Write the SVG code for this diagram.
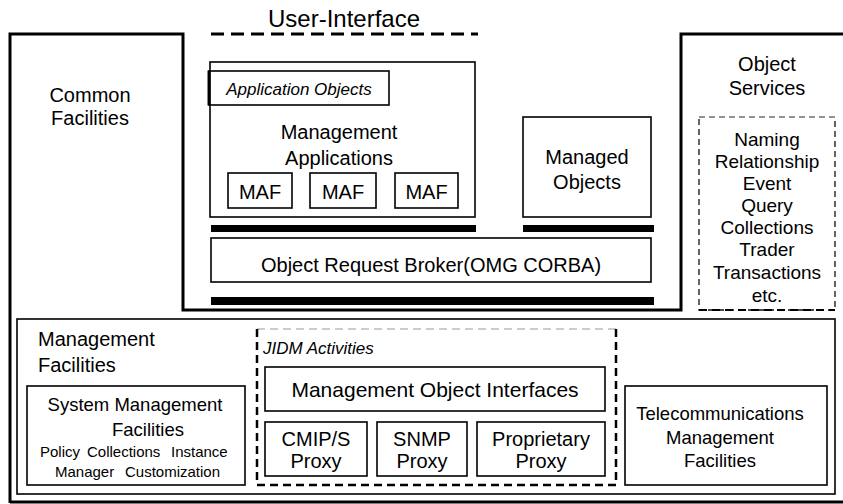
<svg xmlns="http://www.w3.org/2000/svg" width="843" height="504" viewBox="0 0 843 504">
<style>
.t{font-family:"Liberation Sans",Arial,sans-serif;fill:#000;text-anchor:middle}
.s20{font-size:20px}
.s19{font-size:19px}
.s18{font-size:18.5px}
.s15{font-size:15px}
.it{font-style:italic}
.box{fill:none;stroke:#000;stroke-width:1.6}
.thick{fill:none;stroke:#000;stroke-width:3}
.bar{fill:#000}
.dash{fill:none;stroke:#000;stroke-width:2.5;stroke-dasharray:8 5}
.dashlt{fill:none;stroke:#999;stroke-width:1;stroke-dasharray:8 5}
</style>
<rect width="843" height="504" fill="#fff"/>
<g id="frame">
<path class="thick" d="M10,503 L10,34 L183,34 L183,310 L681,310 L681,34 L843,34"/>
<line x1="10" y1="502" x2="843" y2="502" stroke="#000" stroke-width="3"/>
</g>
<g id="user-interface">
<text class="t" x="344" y="27" style="font-size:24px">User-Interface</text>
<line x1="211" y1="34" x2="478" y2="34" stroke="#000" stroke-width="3" stroke-dasharray="13 7"/>
</g>
<g id="common-facilities">
<text class="t s20" x="90" y="102">Common</text>
<text class="t s20" x="90" y="125">Facilities</text>
</g>
<g id="management-applications">
<rect class="box" x="210" y="62" width="265" height="155"/>
<text class="t s20" x="339" y="139">Management</text>
<text class="t s20" x="339" y="165">Applications</text>
</g>
<g id="application-objects">
<rect class="box" x="208.5" y="71" width="180.5" height="34"/>
<line x1="209" y1="71" x2="209" y2="105" stroke="#000" stroke-width="2.5"/>
<text class="t it" x="299" y="95" style="font-size:17px">Application Objects</text>
</g>
<g id="maf1">
<rect class="box" x="228" y="173" width="64" height="35"/>
<text class="t s20" x="260" y="199">MAF</text>
</g>
<g id="maf2">
<rect class="box" x="310" y="173" width="66" height="35"/>
<text class="t s20" x="343" y="199">MAF</text>
</g>
<g id="maf3">
<rect class="box" x="395" y="173" width="63" height="35"/>
<text class="t s20" x="426.5" y="199">MAF</text>
</g>
<g id="managed-objects">
<rect class="box" x="523" y="117" width="128" height="100"/>
<text class="t s20" x="587" y="164">Managed</text>
<text class="t s20" x="587" y="189">Objects</text>
</g>
<g id="bars">
<rect class="bar" x="211" y="225" width="265" height="7"/>
<rect class="bar" x="523" y="225" width="131" height="7"/>
<rect class="bar" x="211" y="297" width="443" height="8"/>
</g>
<g id="orb">
<rect class="box" x="211" y="238" width="440" height="44"/>
<text class="t s20" x="431" y="272">Object Request Broker(OMG CORBA)</text>
</g>
<g id="object-services">
<text class="t s20" x="767" y="71">Object</text>
<text class="t s20" x="767" y="95">Services</text>
<rect x="699" y="117" width="136" height="193" fill="none" stroke="#111" stroke-width="1.3" stroke-dasharray="6 4"/>
<line x1="699" y1="117" x2="835" y2="117" stroke="#aaa" stroke-width="1.3" stroke-dasharray="6 4"/>
<line x1="699" y1="310" x2="835" y2="310" stroke="#000" stroke-width="2.2" stroke-dasharray="8 5"/>
<text class="t s19" x="767" y="146">Naming</text>
<text class="t s19" x="767" y="168">Relationship</text>
<text class="t s19" x="767" y="190">Event</text>
<text class="t s19" x="767" y="212">Query</text>
<text class="t s19" x="767" y="234">Collections</text>
<text class="t s19" x="767" y="256">Trader</text>
<text class="t s19" x="767" y="279">Transactions</text>
<text class="t s19" x="767" y="302">etc.</text>
</g>
<g id="management-facilities">
<rect class="box" x="17" y="319" width="818" height="175"/>
<text class="t s20" x="38" y="346" style="text-anchor:start">Management</text>
<text class="t s20" x="38" y="372" style="text-anchor:start">Facilities</text>
</g>
<g id="system-management-facilities">
<rect class="box" x="27" y="386" width="218" height="99"/>
<text class="t s18" x="135" y="411">System Management</text>
<text class="t s18" x="148" y="436">Facilities</text>
<text class="t s15" y="457" style="text-anchor:start"><tspan x="40">Policy</tspan><tspan x="87">Collections</tspan><tspan x="171">Instance</tspan></text>
<text class="t s15" y="477" style="text-anchor:start"><tspan x="55">Manager</tspan><tspan x="125">Customization</tspan></text>
</g>
<g id="jidm-activities">
<line class="dashlt" x1="257" y1="329" x2="616" y2="329"/>
<path class="dash" d="M257,329 L257,485 L616,485 L616,329"/>
<text class="t it" x="263" y="354" style="font-size:17px;text-anchor:start">JIDM Activities</text>
</g>
<g id="management-object-interfaces">
<rect class="box" x="265" y="367" width="340" height="44"/>
<text class="t" x="435" y="397" style="font-size:21px">Management Object Interfaces</text>
</g>
<g id="cmip-proxy">
<rect class="box" x="265" y="422" width="102" height="54"/>
<text class="t s20" x="316" y="446">CMIP/S</text>
<text class="t s20" x="316" y="468">Proxy</text>
</g>
<g id="snmp-proxy">
<rect class="box" x="377" y="422" width="90" height="54"/>
<text class="t s20" x="422" y="446">SNMP</text>
<text class="t s20" x="422" y="468">Proxy</text>
</g>
<g id="proprietary-proxy">
<rect class="box" x="477" y="422" width="128" height="54"/>
<text class="t s20" x="541" y="446">Proprietary</text>
<text class="t s20" x="541" y="468">Proxy</text>
</g>
<g id="telecom-management-facilities">
<rect class="box" x="625" y="386" width="202" height="99"/>
<text class="t s18" x="720" y="420">Telecommunications</text>
<text class="t s18" x="720" y="444">Management</text>
<text class="t s18" x="720" y="467">Facilities</text>
</g>
<g id="connectors"></g>
</svg>
